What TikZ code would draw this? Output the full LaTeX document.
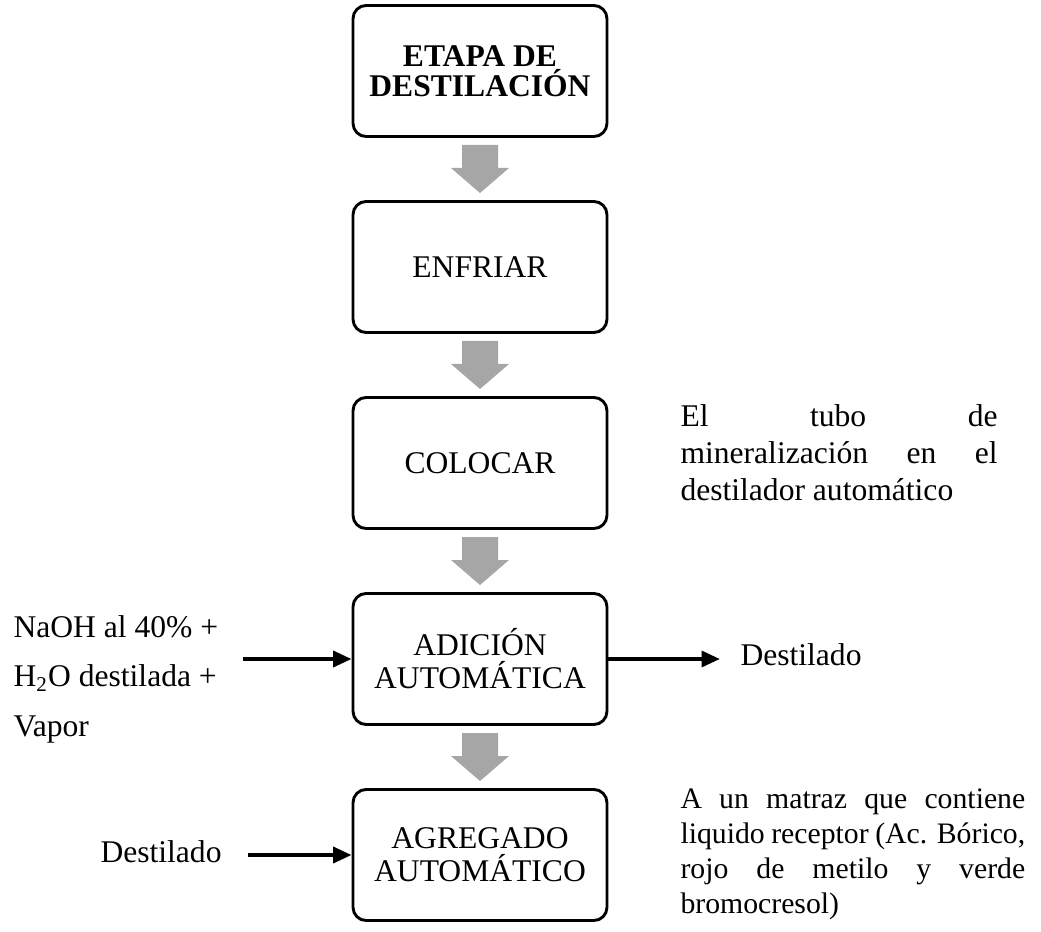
\documentclass[tikz,border=0pt]{standalone}
\usepackage{fontspec}
\setmainfont{Liberation Serif}
\usepackage{tikz}
\usetikzlibrary{arrows.meta, positioning, calc}
\definecolor{mydark}{RGB}{0,0,0}
\definecolor{mygray}{RGB}{166,166,166}
\newcommand{\loosepar}{\tolerance=10000 \hyphenpenalty=10000 }
\tikzset{
  garrow/.style={fill=mygray, draw=none},
  txt/.style={inner sep=0pt, font=\fontsize{12}{13.9}\selectfont},
  line/.style={line width=1.1pt, color=mydark}
}

\begin{document}
\begin{tikzpicture}[x=0.38pt, y=-0.38pt,
  proc/.style={rectangle, draw=mydark, line width=1.1pt, rounded corners=5pt, minimum width=96.5pt, minimum height=49.8pt, align=center, inner sep=0pt, font=\fontsize{12}{12.5}\selectfont},
  just/.style={txt, align=justify, anchor=base west},
  arr/.style={-{Triangle[length=7pt,width=6pt]}, line width=1.5pt, color=mydark}
]
\useasboundingbox (0,0) rectangle (1041,932);

%--- main column ---
\node[proc, font=\fontsize{12}{11.6}\selectfont\bfseries] (etapa) at (480,71) {ETAPA DE\\DESTILACIÓN};
\node[proc] (enfriar)  at (480,267) {ENFRIAR};
\node[proc] (colocar)  at (480,463) {COLOCAR};
\node[proc] (adicion)  at (480,659) {ADICIÓN\\AUTOMÁTICA};
\node[proc] (agregado) at (480,855) {AGREGADO\\AUTOMÁTICO};

%--- gray block arrows between steps ---
\foreach \a/\b in {etapa/enfriar, enfriar/colocar, colocar/adicion, adicion/agregado}
  \fill[garrow] ($(\a.south)!0.5!(\b.north)$) ++(-18,-24) -- ++(36,0) -- ++(0,23)
    -- ++(11,0) -- ++(-29,25) -- ++(-29,-25) -- ++(11,0) -- cycle;

%--- side notes ---
\node[just, text width=120.5pt] (tubo) at (680,427)
  {\loosepar El tubo de\linebreak mineralización en el\linebreak destilador automático};
\node[just, text width=131pt, font=\fontsize{11.3}{13.3}\selectfont] (matraz) at (680,808)
  {\loosepar A un matraz que contiene\linebreak liquido receptor (Ac. Bórico,\linebreak rojo de metilo y verde\linebreak bromocresol)};

%--- inputs and outputs ---
\node[txt, align=left, anchor=base west, font=\fontsize{12}{18.7}\selectfont] (naoh) at (13,736)
  {NaOH al 40\% +\\H\textsubscript{2}O destilada +\\Vapor};
\coordinate (naohend) at (243,659);
\draw[arr] (naohend) -- (adicion.west);

\coordinate (destend) at (720,659);
\draw[arr] (adicion.east) -- (destend);
\node[txt, anchor=base west] (destout) at (740,665) {Destilado};

\node[txt, anchor=base west] (destin) at (100,862) {Destilado};
\coordinate (destinend) at (248,855);
\draw[arr] (destinend) -- (agregado.west);
\end{tikzpicture}
\end{document}
